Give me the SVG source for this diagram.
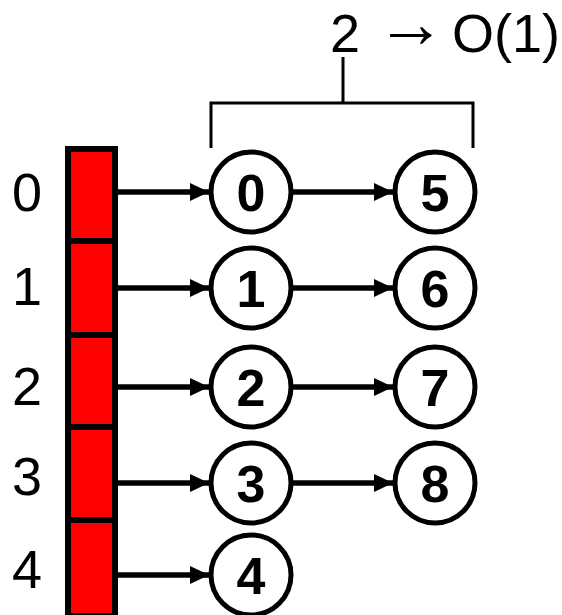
<svg xmlns="http://www.w3.org/2000/svg" width="562" height="615" viewBox="0 0 562 615">
<style>
.cell{fill:#ff0000;stroke:#000;stroke-width:6}
.node circle{fill:#fff;stroke:#000;stroke-width:5}
.node text{font-family:"Liberation Sans",Arial,sans-serif;font-weight:bold;font-size:52px;text-anchor:middle;fill:#000}
.idx{font-family:"Liberation Sans",Arial,sans-serif;font-size:54px;text-anchor:middle;fill:#000}
.top{font-family:"Liberation Sans",Arial,sans-serif;font-size:54px;fill:#000}
.conn path{fill:none;stroke:#000;stroke-width:5.5;marker-end:url(#ah)}
.br{fill:none;stroke:#000;stroke-width:3}
</style>
<defs>
<marker id="ah" markerUnits="userSpaceOnUse" markerWidth="19" markerHeight="18" refX="19" refY="9" orient="auto">
<path d="M0,0 L19,9 L0,18 z" fill="#000"/>
</marker>
</defs>
<rect width="562" height="615" fill="#fff"/>
<g id="array">
<rect class="cell" x="68" y="149" width="47" height="92"/>
<rect class="cell" x="68" y="241" width="47" height="94"/>
<rect class="cell" x="68" y="335" width="47" height="92"/>
<rect class="cell" x="68" y="427" width="47" height="93"/>
<rect class="cell" x="68" y="520" width="47" height="96"/>
</g>
<g id="indices">
<text class="idx" x="27" y="211">0</text>
<text class="idx" x="27" y="305">1</text>
<text class="idx" x="27" y="405">2</text>
<text class="idx" x="27" y="495">3</text>
<text class="idx" x="27" y="588">4</text>
</g>
<g id="connectors" class="conn">
<path d="M118,192 H209"/>
<path d="M118,288 H209"/>
<path d="M118,387 H209"/>
<path d="M118,483 H209"/>
<path d="M118,575 H209"/>
<path d="M293,192 H393"/>
<path d="M293,288 H393"/>
<path d="M293,387 H393"/>
<path d="M293,483 H393"/>
</g>
<g id="n0" class="node"><circle cx="251" cy="192" r="40"/><text x="251" y="211">0</text></g>
<g id="n1" class="node"><circle cx="251" cy="288" r="40"/><text x="251" y="307">1</text></g>
<g id="n2" class="node"><circle cx="251" cy="387" r="40"/><text x="251" y="406">2</text></g>
<g id="n3" class="node"><circle cx="251" cy="483" r="40"/><text x="251" y="502">3</text></g>
<g id="n4" class="node"><circle cx="251" cy="575" r="40"/><text x="251" y="594">4</text></g>
<g id="n5" class="node"><circle cx="435" cy="192" r="40"/><text x="435" y="211">5</text></g>
<g id="n6" class="node"><circle cx="435" cy="288" r="40"/><text x="435" y="307">6</text></g>
<g id="n7" class="node"><circle cx="435" cy="387" r="40"/><text x="435" y="406">7</text></g>
<g id="n8" class="node"><circle cx="435" cy="483" r="40"/><text x="435" y="502">8</text></g>
<g id="bracket">
<path class="br" d="M211,148 V103 H473 V148 M343,103 V57"/>
<text class="top" y="52"><tspan x="330">2</tspan><tspan x="376" y="47" style="font-size:70px">→</tspan><tspan x="452" y="52">O(1)</tspan></text>
</g>
</svg>
